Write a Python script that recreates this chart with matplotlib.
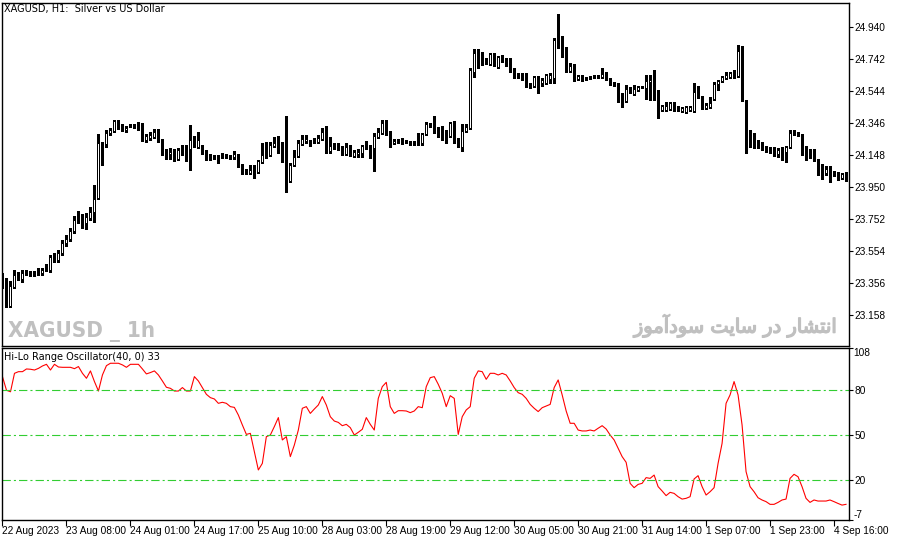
import matplotlib
matplotlib.use("Agg")
import matplotlib.pyplot as plt
import matplotlib.transforms as mtransforms
import matplotlib.patheffects as pe

# XAGUSD H1 candles, 22 Aug 2023 .. 4 Sep 2023
opens = [
    23.405, 23.337, 23.214, 23.331, 23.405, 23.381, 23.418, 23.412, 23.414, 23.430,
    23.418, 23.443, 23.436, 23.517, 23.498, 23.542, 23.603, 23.628, 23.678, 23.746,
    23.758, 23.727, 23.758, 23.795, 23.882, 24.222, 24.216, 24.284, 24.296, 24.358,
    24.321, 24.303, 24.327, 24.327, 24.334, 24.327, 24.241, 24.253, 24.259, 24.290,
    24.241, 24.160, 24.154, 24.173, 24.123, 24.185, 24.182, 24.185, 24.247, 24.197,
    24.204, 24.166, 24.136, 24.136, 24.136, 24.148, 24.142, 24.136, 24.136, 24.148,
    24.080, 24.049, 24.037, 24.055, 24.043, 24.105, 24.160, 24.148, 24.204, 24.216,
    24.197, 24.166, 23.987, 24.086, 24.142, 24.216, 24.234, 24.234, 24.234, 24.228,
    24.247, 24.290, 24.173, 24.204, 24.204, 24.185, 24.154, 24.204, 24.142, 24.154,
    24.160, 24.204, 24.197, 24.191, 24.259, 24.284, 24.346, 24.284, 24.222, 24.234,
    24.241, 24.234, 24.222, 24.222, 24.222, 24.222, 24.278, 24.340, 24.334, 24.296,
    24.284, 24.284, 24.265, 24.346, 24.234, 24.197, 24.296, 24.315, 24.662, 24.779,
    24.723, 24.730, 24.711, 24.767, 24.692, 24.754, 24.730, 24.736, 24.674, 24.643,
    24.643, 24.618, 24.581, 24.575, 24.631, 24.593, 24.593, 24.618, 24.624, 24.860,
    24.835, 24.810, 24.668, 24.699, 24.618, 24.631, 24.618, 24.624, 24.631, 24.631,
    24.631, 24.649, 24.618, 24.581, 24.581, 24.494, 24.482, 24.562, 24.525, 24.550,
    24.569, 24.562, 24.600, 24.612, 24.544, 24.426, 24.426, 24.433, 24.464, 24.439,
    24.420, 24.414, 24.426, 24.420, 24.538, 24.507, 24.439, 24.445, 24.494, 24.587,
    24.606, 24.624, 24.631, 24.649, 24.637, 24.791, 24.470, 24.284, 24.228, 24.216,
    24.210, 24.197, 24.191, 24.191, 24.154, 24.173, 24.166, 24.197, 24.290, 24.278,
    24.272, 24.166, 24.160, 24.166, 24.117, 24.061, 24.037, 24.049, 24.037, 24.037,
    24.006, 24.037]
highs = [
    23.418, 23.387, 23.368, 23.436, 23.424, 23.436, 23.436, 23.430, 23.430, 23.449,
    23.449, 23.474, 23.529, 23.542, 23.560, 23.622, 23.653, 23.696, 23.771, 23.801,
    23.783, 23.789, 23.826, 23.962, 24.278, 24.228, 24.303, 24.315, 24.364, 24.364,
    24.340, 24.327, 24.340, 24.340, 24.352, 24.346, 24.278, 24.290, 24.309, 24.309,
    24.247, 24.185, 24.191, 24.185, 24.191, 24.210, 24.210, 24.334, 24.265, 24.290,
    24.210, 24.179, 24.154, 24.148, 24.148, 24.160, 24.154, 24.148, 24.173, 24.154,
    24.092, 24.061, 24.086, 24.086, 24.117, 24.222, 24.228, 24.228, 24.259, 24.265,
    24.228, 24.389, 24.098, 24.179, 24.241, 24.272, 24.272, 24.241, 24.253, 24.272,
    24.315, 24.327, 24.259, 24.222, 24.222, 24.204, 24.222, 24.210, 24.179, 24.185,
    24.210, 24.234, 24.210, 24.284, 24.315, 24.364, 24.364, 24.296, 24.247, 24.247,
    24.253, 24.241, 24.234, 24.234, 24.284, 24.284, 24.352, 24.346, 24.389, 24.321,
    24.327, 24.303, 24.352, 24.358, 24.253, 24.340, 24.340, 24.686, 24.804, 24.804,
    24.785, 24.748, 24.779, 24.779, 24.760, 24.767, 24.748, 24.748, 24.686, 24.655,
    24.655, 24.655, 24.593, 24.637, 24.637, 24.624, 24.649, 24.655, 24.872, 25.020,
    24.884, 24.816, 24.717, 24.711, 24.643, 24.643, 24.631, 24.637, 24.643, 24.643,
    24.686, 24.662, 24.624, 24.600, 24.593, 24.532, 24.581, 24.569, 24.581, 24.575,
    24.575, 24.643, 24.643, 24.674, 24.550, 24.457, 24.476, 24.476, 24.476, 24.451,
    24.445, 24.451, 24.451, 24.593, 24.575, 24.513, 24.470, 24.507, 24.600, 24.612,
    24.637, 24.662, 24.662, 24.674, 24.829, 24.822, 24.488, 24.303, 24.284, 24.241,
    24.228, 24.204, 24.197, 24.197, 24.191, 24.197, 24.204, 24.303, 24.303, 24.290,
    24.278, 24.204, 24.185, 24.185, 24.123, 24.092, 24.080, 24.080, 24.049, 24.043,
    24.037, 24.043]
lows = [
    23.325, 23.207, 23.207, 23.325, 23.375, 23.362, 23.405, 23.399, 23.399, 23.405,
    23.405, 23.430, 23.424, 23.486, 23.486, 23.529, 23.585, 23.616, 23.665, 23.727,
    23.696, 23.690, 23.746, 23.733, 23.876, 24.086, 24.197, 24.272, 24.290, 24.309,
    24.296, 24.290, 24.321, 24.315, 24.303, 24.234, 24.228, 24.241, 24.253, 24.228,
    24.148, 24.123, 24.123, 24.111, 24.117, 24.148, 24.111, 24.055, 24.197, 24.191,
    24.154, 24.117, 24.117, 24.123, 24.098, 24.129, 24.129, 24.123, 24.123, 24.074,
    24.031, 24.031, 24.031, 24.006, 24.037, 24.098, 24.129, 24.142, 24.197, 24.160,
    24.105, 23.919, 23.981, 24.080, 24.136, 24.210, 24.222, 24.204, 24.222, 24.222,
    24.241, 24.160, 24.160, 24.185, 24.179, 24.148, 24.148, 24.142, 24.136, 24.136,
    24.136, 24.185, 24.129, 24.049, 24.253, 24.278, 24.272, 24.197, 24.216, 24.222,
    24.216, 24.222, 24.210, 24.210, 24.210, 24.210, 24.272, 24.321, 24.284, 24.259,
    24.241, 24.222, 24.259, 24.222, 24.197, 24.173, 24.290, 24.309, 24.631, 24.686,
    24.705, 24.711, 24.705, 24.699, 24.686, 24.723, 24.699, 24.662, 24.624, 24.624,
    24.612, 24.569, 24.562, 24.569, 24.532, 24.575, 24.587, 24.593, 24.593, 24.810,
    24.754, 24.662, 24.662, 24.606, 24.612, 24.606, 24.612, 24.618, 24.624, 24.624,
    24.624, 24.612, 24.581, 24.575, 24.476, 24.445, 24.476, 24.532, 24.519, 24.544,
    24.562, 24.494, 24.488, 24.488, 24.377, 24.420, 24.420, 24.426, 24.420, 24.420,
    24.414, 24.408, 24.420, 24.414, 24.501, 24.433, 24.433, 24.439, 24.488, 24.550,
    24.600, 24.618, 24.624, 24.624, 24.631, 24.482, 24.160, 24.197, 24.191, 24.191,
    24.179, 24.166, 24.160, 24.142, 24.136, 24.117, 24.105, 24.191, 24.272, 24.265,
    24.148, 24.117, 24.129, 24.111, 24.024, 24.000, 24.024, 23.981, 24.018, 23.993,
    24.000, 23.987]
closes = [
    23.344, 23.214, 23.337, 23.405, 23.387, 23.418, 23.420, 23.414, 23.410, 23.418,
    23.436, 23.436, 23.517, 23.504, 23.542, 23.603, 23.628, 23.678, 23.746, 23.740,
    23.727, 23.764, 23.795, 23.876, 24.222, 24.210, 24.284, 24.303, 24.358, 24.315,
    24.309, 24.315, 24.325, 24.329, 24.321, 24.241, 24.265, 24.272, 24.290, 24.234,
    24.154, 24.150, 24.166, 24.123, 24.179, 24.173, 24.185, 24.241, 24.234, 24.241,
    24.160, 24.136, 24.134, 24.129, 24.123, 24.136, 24.140, 24.138, 24.154, 24.080,
    24.037, 24.037, 24.055, 24.037, 24.111, 24.148, 24.142, 24.210, 24.222, 24.197,
    24.160, 23.987, 24.086, 24.136, 24.222, 24.247, 24.247, 24.210, 24.230, 24.253,
    24.290, 24.166, 24.204, 24.200, 24.185, 24.154, 24.197, 24.148, 24.166, 24.166,
    24.204, 24.191, 24.195, 24.265, 24.290, 24.346, 24.278, 24.228, 24.234, 24.232,
    24.222, 24.228, 24.220, 24.222, 24.220, 24.278, 24.340, 24.338, 24.290, 24.284,
    24.282, 24.265, 24.346, 24.241, 24.222, 24.296, 24.321, 24.674, 24.779, 24.717,
    24.720, 24.717, 24.773, 24.711, 24.754, 24.730, 24.705, 24.668, 24.631, 24.631,
    24.618, 24.575, 24.569, 24.631, 24.593, 24.612, 24.643, 24.643, 24.860, 24.829,
    24.810, 24.668, 24.699, 24.612, 24.637, 24.612, 24.612, 24.622, 24.629, 24.637,
    24.649, 24.618, 24.581, 24.579, 24.488, 24.482, 24.556, 24.532, 24.556, 24.569,
    24.567, 24.606, 24.612, 24.532, 24.426, 24.451, 24.451, 24.470, 24.426, 24.426,
    24.439, 24.445, 24.445, 24.538, 24.507, 24.439, 24.457, 24.470, 24.587, 24.606,
    24.631, 24.643, 24.655, 24.631, 24.791, 24.488, 24.284, 24.222, 24.216, 24.204,
    24.208, 24.179, 24.173, 24.148, 24.179, 24.171, 24.197, 24.284, 24.278, 24.276,
    24.160, 24.164, 24.148, 24.117, 24.031, 24.037, 24.061, 24.037, 24.035, 24.006,
    24.031, 23.993]

# Hi-Lo Range Oscillator(40, 0)
osc = [
    89, 80, 79, 91.3, 92.4, 92.4, 94.2, 94, 93.5, 94.6,
    96.2, 97.3, 93.5, 97.3, 95.5, 95.3, 95.3, 95.3, 94.4, 95.8,
    91.3, 88, 92.9, 85.8, 79.5, 90.2, 96.4, 98, 98, 98,
    96.9, 95.3, 97.3, 97.3, 97.3, 94.2, 90.9, 91.8, 92.9, 90.2,
    86.2, 82, 81.3, 79.5, 79.5, 81.8, 79.5, 79.5, 89.1, 86.2,
    81.8, 77.3, 75.1, 74.2, 71.3, 72, 71.3, 69.1, 68.6, 63.5,
    56.9, 50.6, 51.3, 39.1, 26.9, 31.3, 49.1, 50.2, 55.8, 61.8,
    46.9, 49.1, 35.8, 43.5, 53.5, 68, 69.1, 64.6, 67.5, 70.2,
    75.8, 70.2, 62.4, 59.5, 58.6, 56.4, 57.3, 55.1, 50.2, 52,
    54, 61.8, 57.3, 53.5, 74.6, 82.4, 85.3, 69.1, 64.6, 66.4,
    66.4, 66.2, 65.1, 66.2, 69.1, 68.4, 82.4, 88.4, 89.1, 84,
    78, 69.1, 76.4, 74.6, 50.6, 62.4, 66.9, 69.1, 88, 92.9,
    92.4, 87.3, 91.3, 91.3, 90.2, 91.3, 90.2, 86.2, 81.8, 78.4,
    77.3, 74.6, 70.6, 68, 65.8, 68.4, 69.5, 70.6, 81.8, 86.9,
    76.9, 66.2, 58, 58, 53.5, 52.9, 52.9, 53.5, 52.9, 54.7,
    56.4, 54.2, 50.2, 46.9, 41.3, 35.8, 32, 18, 15.1, 17.3,
    18, 21.8, 21.3, 23.5, 15.8, 12.9, 9.8, 12, 11.3, 9.1,
    7.5, 8, 9.1, 20.9, 23.1, 15.8, 10.2, 12.4, 15.1, 31.3,
    44.6, 71.3, 76.9, 85.8, 76.9, 56.9, 25.8, 15.8, 12.4, 8.4,
    6.9, 5.8, 4, 4, 5.3, 6.9, 7.5, 21.3, 24, 22.4,
    15.8, 8, 5.3, 6.9, 6.2, 6.2, 6.2, 6.9, 5.8, 4.6,
    3.5, 4]
osc_levels = [80, 50, 20]

price_ticks = [23.158, 23.356, 23.554, 23.752, 23.950, 24.148, 24.346, 24.544, 24.742, 24.940]
date_labels = ["22 Aug 2023", "23 Aug 08:00", "24 Aug 01:00", "24 Aug 17:00", "25 Aug 10:00",
               "28 Aug 03:00", "28 Aug 19:00", "29 Aug 12:00", "30 Aug 05:00", "30 Aug 21:00",
               "31 Aug 14:00", "1 Sep 07:00", "1 Sep 23:00", "4 Sep 16:00"]
date_bars = [0, 16, 32, 48, 64, 80, 96, 112, 128, 144, 160, 176, 192, 208]

# "انتشار در سایت سودآموز" written with Arabic presentation forms in display order
fa_codes = [0xFEAF, 0xFEEE, 0xFEE3, 0xFE81, 0xFEA9, 0xFEEE, 0xFEB3, 0x20,
            0xFE96, 0xFBFE, 0xFE8E, 0xFEB3, 0x20,
            0xFEAD, 0xFEA9, 0x20,
            0xFEAD, 0xFE8E, 0xFEB8, 0xFE98, 0xFEE7, 0xFE8D]
fa_text = "".join(chr(c) for c in fa_codes)

plt.rcParams['font.family'] = ['DejaVu Sans']
plt.rcParams['lines.scale_dashes'] = False
num_font = ['Liberation Sans', 'DejaVu Sans']

W, H = 897, 541
fig = plt.figure(figsize=(W / 100, H / 100), dpi=100)
fig.patch.set_facecolor('white')

left = 1.5 / W
width = 847.5 / W
ax1 = fig.add_axes([left, 1 - 345.5 / H, width, (345.5 - 2.5) / H])
ax2 = fig.add_axes([left, 1 - 519.5 / H, width, (519.5 - 347.5) / H])

x = list(range(len(closes)))

# candles
ax1.vlines(x, lows, highs, color='black', linewidth=0.75, antialiased=False)
body_bottom = [min(o, c) for o, c in zip(opens, closes)]
body_height = [abs(c - o) for o, c in zip(opens, closes)]
body_color = ['white' if c >= o else 'black' for o, c in zip(opens, closes)]
ax1.bar(x, body_height, bottom=body_bottom, width=0.5, color=body_color,
        edgecolor='black', linewidth=0.72, zorder=3, antialiased=False)

ax1.set_xlim(-0.25, 211.75)
ax1.set_ylim(22.969, 25.092)
ax1.yaxis.tick_right()
ax1.set_yticks(price_ticks)
ax1.set_yticklabels(["%.3f" % t for t in price_ticks], family=num_font)
ax1.tick_params(axis='y', direction='out', length=3, width=0.8, labelsize=7.3, pad=1)
ax1.tick_params(axis='x', bottom=False, labelbottom=False)
for s in ax1.spines.values():
    s.set_linewidth(1.0)

# oscillator
ax2.plot(x, osc, color='red', linewidth=0.8)
for lv in osc_levels:
    ax2.axhline(lv, color='#32CD32', linewidth=0.8, dashes=(6, 2.2, 1.5, 2.2))
ax2.set_xlim(-0.25, 211.75)
ax2.set_ylim(-6.1, 108.5)
ax2.yaxis.tick_right()
ax2.set_yticks([108.5] + osc_levels + [-6.1])
ax2.set_yticklabels([""] + [str(v) for v in osc_levels] + [""], family=num_font)
ax2.tick_params(axis='y', direction='out', length=3, width=0.8, labelsize=7.3, pad=1)
trans = mtransforms.blended_transform_factory(ax2.transAxes, ax2.transData)
ax2.text(1.0055, 104.9, "108", transform=trans, fontsize=7.3, family=num_font,
         va='center', ha='left')
ax2.text(1.0055, -3.1, "-7", transform=trans, fontsize=7.3, family=num_font,
         va='center', ha='left')
ax2.set_xticks(date_bars)
ax2.set_xticklabels(date_labels, ha='left', family=num_font)
ax2.tick_params(axis='x', direction='out', length=4, width=0.8, labelsize=7.3, pad=1)
for s in ax2.spines.values():
    s.set_linewidth(1.0)

# texts
fig.text(4 / W, 1 - 9 / H, "XAGUSD, H1:  Silver vs US Dollar", fontsize=7, va='center', ha='left')
fig.text(4 / W, 1 - 357 / H, "Hi-Lo Range Oscillator(40, 0) 33", fontsize=7, va='center', ha='left')
fig.text(8 / W, 1 - 337 / H, "XAGUSD _ 1h", fontsize=16, fontweight='bold', fontstretch='condensed',
         family=['DejaVu Sans'], color='#c0c0c0', va='baseline', ha='left')
fig.text(838 / W, 1 - 326 / H, fa_text, fontsize=14, family=['DejaVu Sans'],
         color='#c0c0c0', va='center', ha='right',
         path_effects=[pe.withStroke(linewidth=1.0, foreground='#c0c0c0')])

fig.savefig('out.png', dpi=100)
